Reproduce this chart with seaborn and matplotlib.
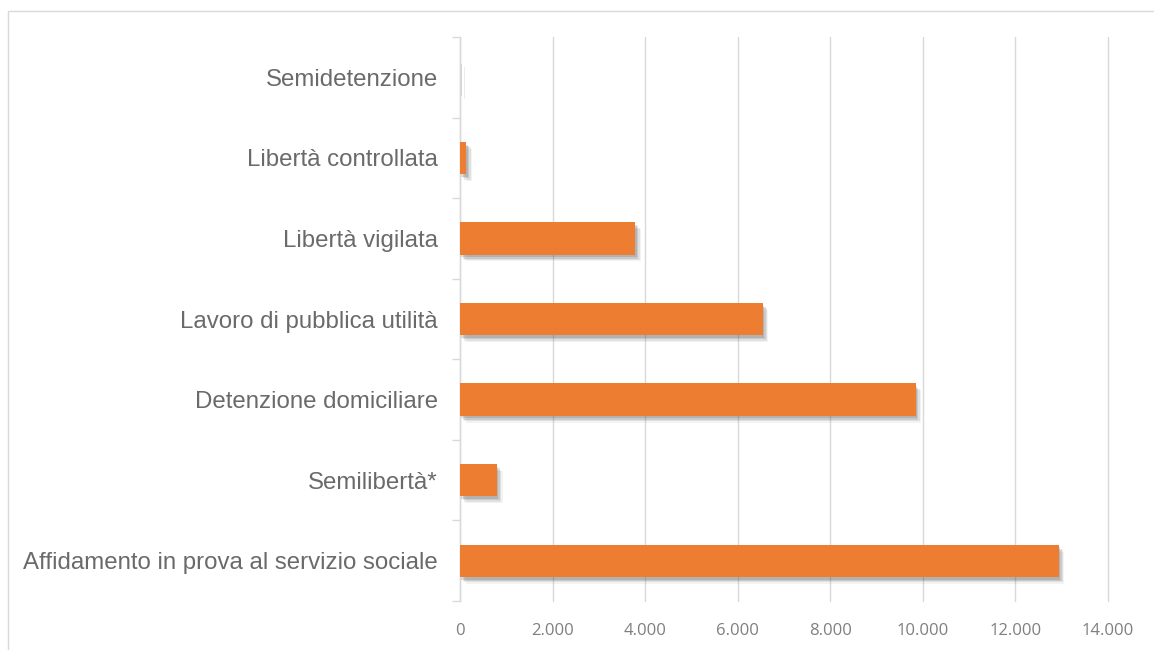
import matplotlib
matplotlib.use("Agg")
import matplotlib.pyplot as plt
import matplotlib.patheffects as pe
from matplotlib.ticker import FuncFormatter, FixedLocator
import seaborn as sns
import pandas as pd

categories = [
    "Semidetenzione",
    "Libertà controllata",
    "Libertà vigilata",
    "Lavoro di pubblica utilità",
    "Detenzione domiciliare",
    "Semilibertà*",
    "Affidamento in prova al servizio sociale",
]
values = [10, 140, 3790, 6545, 9845, 800, 12940]
x_ticks = [0, 2000, 4000, 6000, 8000, 10000, 12000, 14000]

df = pd.DataFrame({"categoria": categories, "valore": values})

sns.set_theme(style="white")
plt.rcParams["font.family"] = ["Liberation Sans", "DejaVu Sans"]

fig = plt.figure(figsize=(11.54, 6.5), dpi=100)
ax = fig.add_axes([460 / 1154, 1 - 601 / 650, (1108 - 460) / 1154, (601 - 37) / 650])

sns.barplot(data=df, x="valore", y="categoria", orient="h", color="#ED7D31",
            saturation=1, width=0.4, ax=ax, zorder=3)

shadow = [pe.SimplePatchShadow(offset=(o, -o - 1), shadow_rgbFace="#404040", alpha=a)
          for o, a in [(4, 0.06), (3, 0.10), (2, 0.14), (1, 0.16)]]
for p in ax.patches:
    p.set_path_effects(shadow + [pe.Normal()])
    p.set_linewidth(0)

ax.set_xlim(0, 14000)
ax.set_ylim(6.5, -0.5)
ax.xaxis.set_major_locator(FixedLocator(x_ticks))
ax.xaxis.set_major_formatter(FuncFormatter(lambda v, _: f"{int(v):,}".replace(",", ".")))
ax.grid(axis="x", color="#D9D9D9", linewidth=1, zorder=0)
ax.grid(axis="y", visible=False)
ax.set_axisbelow(True)
for gl in ax.get_xgridlines():
    gl.set_clip_on(False)

for s in ["top", "right", "bottom"]:
    ax.spines[s].set_visible(False)
ax.spines["left"].set_color("#D9D9D9")
ax.spines["left"].set_linewidth(1)

ax.set_xlabel("")
ax.set_ylabel("")
ax.tick_params(axis="x", length=0, pad=16, labelsize=12, labelcolor="#7f7f7f")
ax.tick_params(axis="y", which="major", length=0, pad=16, labelsize=17.3, labelcolor="#6a6a6a")
ax.yaxis.set_minor_locator(FixedLocator([i - 0.5 for i in range(len(categories) + 1)]))
ax.tick_params(axis="y", which="minor", length=6, width=1, color="#D9D9D9", left=True)
for lbl in ax.get_xticklabels():
    lbl.set_fontfamily(["Open Sans", "DejaVu Sans"])

# outer chart frame (partially visible)
fig.add_artist(plt.Rectangle((8 / 1154, -0.05), 1.2, 1 - 11 / 650 + 0.05,
                             transform=fig.transFigure, fill=False,
                             edgecolor="#D9D9D9", linewidth=1))

fig.savefig("out.png", dpi=100)
